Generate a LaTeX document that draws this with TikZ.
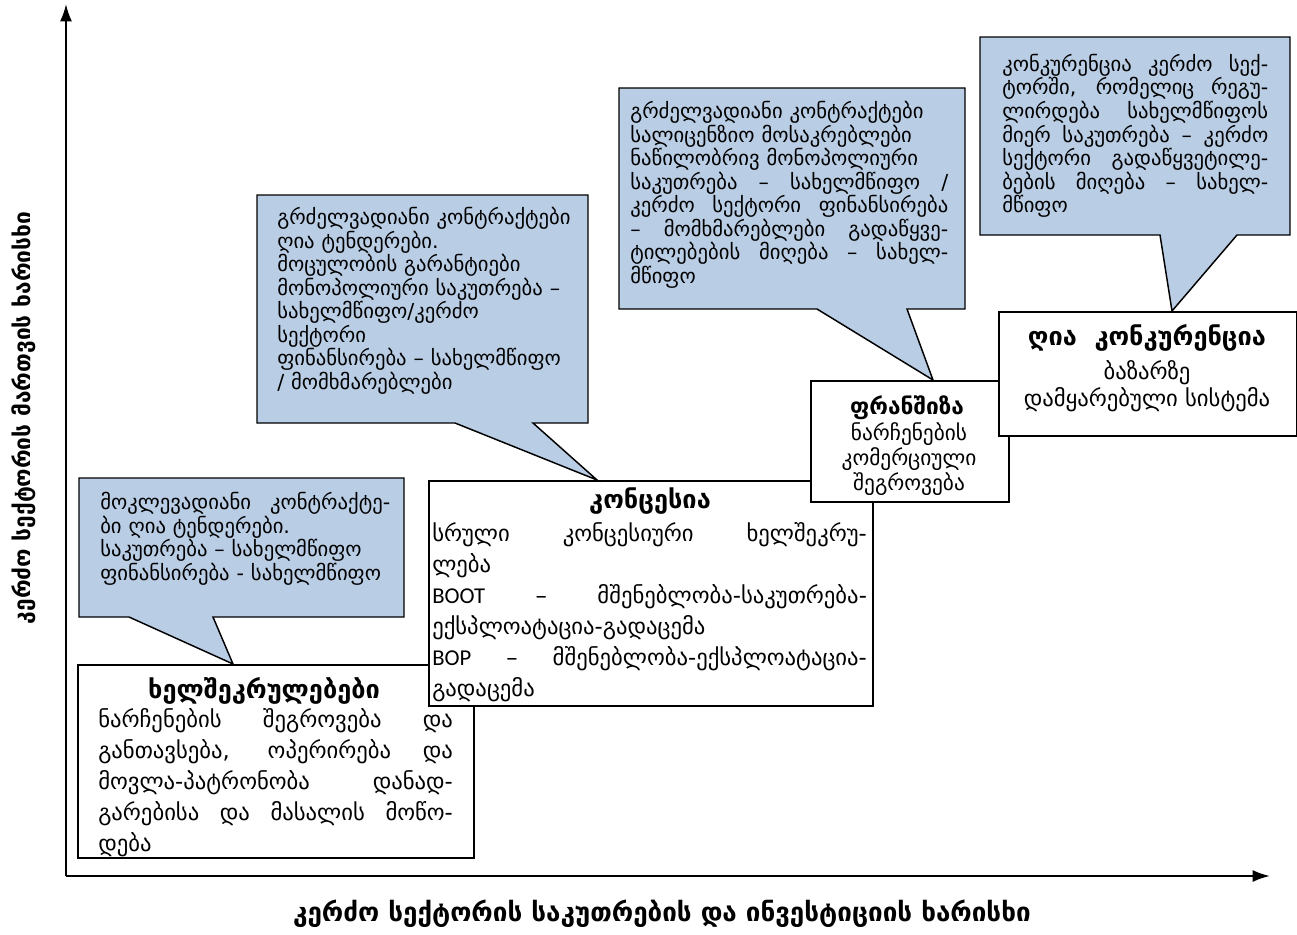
\documentclass[tikz,border=0pt]{standalone}
\usepackage{fontspec}
\setmainfont{DejaVu Sans}
\newfontfamily\calib{Carlito}
\usetikzlibrary{arrows.meta}
\definecolor{callblue}{HTML}{B9CDE5}
\setlength{\parindent}{0pt}
\newcommand\jl[1]{\makebox[\hsize][s]{\spaceskip=0pt\xspaceskip=0pt #1}\\}
\newcommand\nl[1]{\mbox{#1}\\}
\tikzset{
  box/.style={draw=black, fill=white, line width=1.5pt, inner sep=0pt, anchor=north west},
  callout/.style={draw=black, fill=callblue, line width=1.1pt, line join=miter},
  ctext/.style={inner sep=0pt, anchor=north west, align=left, font=\fontsize{15.5}{16.5}\selectfont},
  btext/.style={inner sep=0pt, anchor=north west, align=left, font=\fontsize{17}{23.3}\selectfont},
  ctrtext/.style={inner sep=0pt, anchor=north, align=center, font=\fontsize{16}{21.5}\selectfont},
  title/.style={inner sep=0pt, font=\bfseries\fontsize{19}{22}\selectfont},
  axis/.style={line width=1.6pt, -{Latex[length=13pt,width=9pt]}},
  axlabel/.style={inner sep=0pt, font=\bfseries\fontsize{17}{20}\selectfont}
}
\begin{document}
\begin{tikzpicture}[x=0.75pt, y=-0.75pt]
\useasboundingbox (0,0) rectangle (1297,935);
% axes
\coordinate (o) at (66,876);
\coordinate (ytop) at (66,4);
\coordinate (xend) at (1270,876);
\draw[axis] (o) -- (ytop);
\draw[axis] (o) -- (xend);
\node[axlabel, font=\bfseries\fontsize{19.5}{22}\selectfont] (xlab) at (662,914) {კერძო სექტორის საკუთრების და ინვესტიციის ხარისხი};
\node[axlabel, rotate=90] (ylab) at (24,418) {კერძო სექტორის მართვის ხარისხი};

% boxes
\node[box, minimum width=297pt, minimum height=144.75pt] (b1) at (77,664) {};
\node[box, minimum width=333pt, minimum height=168.75pt] (b2) at (428,480) {};
\node[box, minimum width=148.5pt, minimum height=90.75pt] (b3) at (810,380) {};
\node[box, minimum width=223.5pt, minimum height=93pt] (b4) at (998,311) {};

% box texts
\node[title] (b1title) at (264,691) {ხელშეკრულებები};
\node[btext, text width=266pt] (b1body) at (98,708) {%
\jl{ნარჩენების შეგროვება და}%
\jl{განთავსება, ოპერირება და}%
\jl{მოვლა-პატრონობა დანად-}%
\jl{გარებისა და მასალის მოწო-}%
\mbox{დება}};

\node[title] (b2title) at (650,501) {კონცესია};
\node[btext, text width=326pt] (b2body) at (432,522) {%
\jl{სრული კონცესიური ხელშეკრუ-}%
\nl{ლება}%
\jl{{\calib BOOT} – მშენებლობა-საკუთრება-}%
\nl{ექსპლოატაცია-გადაცემა}%
\jl{{\calib BOP} – მშენებლობა-ექსპლოატაცია-}%
\mbox{გადაცემა}};

\node[title, font=\bfseries\fontsize{17}{20}\selectfont] (b3title) at (907,408) {ფრანშიზა};
\node[ctrtext, font=\fontsize{16}{18.8}\selectfont] (b3body) at (909,422) {ნარჩენების\\კომერციული\\შეგროვება};

\node[title] (b4title) at (1147,338) {ღია\ \ კონკურენცია};
\node[ctrtext, font=\fontsize{17}{20.5}\selectfont] (b4body) at (1147,360) {ბაზარზე\\დამყარებული სისტემა};

% callouts
\coordinate (t1) at (233,664);
\coordinate (t2) at (597,480);
\coordinate (t3) at (933,380);
\coordinate (t4) at (1172,311);
\draw[callout] (79,478) -- (404,478) -- (404,617) -- (213,617) -- (t1) -- (129,617) -- (79,617) -- cycle;
\draw[callout] (257,195) -- (588,195) -- (588,423) -- (533,423) -- (t2) -- (455,423) -- (257,423) -- cycle;
\draw[callout] (619,88) -- (965,88) -- (965,309) -- (907,309) -- (t3) -- (817,309) -- (619,309) -- cycle;
\draw[callout] (980,37) -- (1290,37) -- (1290,235) -- (1237,235) -- (t4) -- (1160,235) -- (980,235) -- cycle;

% callout texts
\node[ctext, text width=217.5pt] (c1t) at (100,492) {%
\jl{მოკლევადიანი კონტრაქტე-}%
\nl{ბი ღია ტენდერები.}%
\nl{საკუთრება – სახელმწიფო}%
\mbox{ფინანსირება - სახელმწიფო}};

\node[ctext, text width=222pt] (c2t) at (277,207) {%
\nl{გრძელვადიანი კონტრაქტები}%
\nl{ღია ტენდერები.}%
\nl{მოცულობის გარანტიები}%
\nl{მონოპოლიური საკუთრება –}%
\nl{სახელმწიფო/კერძო}%
\nl{სექტორი}%
\nl{ფინანსირება – სახელმწიფო}%
\mbox{/ მომხმარებლები}};

\node[ctext, text width=238.5pt] (c3t) at (630,101) {%
\nl{გრძელვადიანი კონტრაქტები}%
\nl{სალიცენზიო მოსაკრებლები}%
\nl{ნაწილობრივ მონოპოლიური}%
\jl{საკუთრება – სახელმწიფო /}%
\jl{კერძო სექტორი ფინანსირება}%
\jl{– მომხმარებლები გადაწყვე-}%
\jl{ტილებების მიღება – სახელ-}%
\mbox{მწიფო}};

\node[ctext, text width=199.5pt] (c4t) at (1002,54) {%
\jl{კონკურენცია კერძო სექ-}%
\jl{ტორში, რომელიც რეგუ-}%
\jl{ლირდება სახელმწიფოს}%
\jl{მიერ საკუთრება – კერძო}%
\jl{სექტორი გადაწყვეტილე-}%
\jl{ბების მიღება – სახელ-}%
\mbox{მწიფო}};
\end{tikzpicture}
\end{document}
